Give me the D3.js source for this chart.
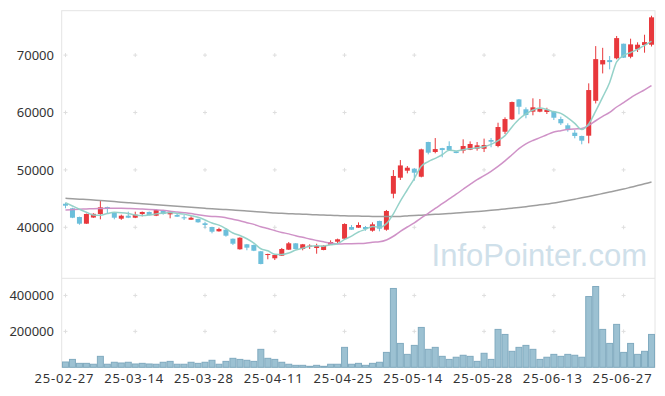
<!DOCTYPE html>
<html>
<head>
<meta charset="utf-8">
<script src="https://cdn.jsdelivr.net/npm/d3@7"></script>
<style>
  body { margin: 0; background: #fff; }
  svg { display: block; font-family: "Noto Sans", "Liberation Sans", sans-serif; }
  .lbl { font-size: 13px; fill: #333; }
</style>
</head>
<body>
<script>
const w = 665;
const h = 396;

// trading days (yy-mm-dd shown as 25-mm-dd)
const dates = ["02-27","02-28","03-04","03-05","03-06","03-07","03-10","03-11","03-12","03-13",
  "03-14","03-17","03-18","03-19","03-20","03-21","03-24","03-25","03-26","03-27",
  "03-28","03-31","04-01","04-02","04-03","04-04","04-07","04-08","04-09","04-10",
  "04-11","04-14","04-15","04-16","04-17","04-18","04-21","04-22","04-23","04-24",
  "04-25","04-28","04-29","04-30","05-02","05-07","05-08","05-09","05-12","05-13",
  "05-14","05-15","05-16","05-19","05-20","05-21","05-22","05-23","05-26","05-27",
  "05-28","05-29","05-30","06-02","06-04","06-05","06-09","06-10","06-11","06-12",
  "06-13","06-16","06-17","06-18","06-19","06-20","06-23","06-24","06-25","06-26",
  "06-27","06-30","07-01","07-02","07-03"];

const open = [44100,43310,41790,40630,41700,42320,43530,42490,41500,42020,
  41670,42320,42670,42020,42840,42260,42140,41740,41320,41450,
  40700,40050,39300,39580,38010,36170,37040,36920,35820,35170,
  34600,35050,36100,37210,36220,36620,36390,36050,36970,37490,
  38010,40050,39930,40050,39410,41100,39580,45850,48640,49860,
  50210,48810,54860,53120,53800,54160,53220,53350,53520,53690,
  53690,55210,54160,56650,58810,62280,60560,60140,60140,60090,
  60190,58860,57770,56480,55910,55960,62040,68380,69130,69440,
  71980,69710,71000,71760,71810];
const high = [44290,43400,41850,42400,42450,44580,43600,42550,42200,42720,
  42720,42750,42750,43100,42900,42800,42460,42140,41900,41500,
  40980,40100,39930,39810,38050,38250,37100,37000,35880,35400,
  35250,36400,37440,37250,37100,37040,37140,36850,37730,38030,
  40690,40400,40860,40230,40860,41150,43020,49980,51720,50680,
  50300,53700,54900,55550,53850,54980,53300,55330,54970,54860,
  55450,55560,58220,59160,61900,62350,60900,62470,62350,60830,
  60250,59270,58120,56950,55960,65080,71570,71270,69840,73330,
  72000,72860,72230,73550,76860];
const low = [43310,41600,40450,40600,41650,41390,42440,41390,41300,41600,
  41600,41900,42050,41950,42200,41570,41800,41270,41300,40800,
  39830,38950,39250,38370,36910,36100,36000,35850,33550,34430,
  34300,35000,36050,36150,35990,36220,35400,36000,36950,37170,
  37950,39550,39900,39410,39240,39300,39400,45050,48240,49400,
  48120,48700,52710,52890,52190,53290,52900,52890,53450,53350,
  53110,53940,53940,56250,58700,59680,58990,59510,60050,59740,
  58690,57820,56660,55500,54460,54630,61580,66810,67520,69270,
  69500,69440,70540,70420,71500];
const close = [43760,41670,40630,42320,42350,43480,43240,41670,42020,41670,
  42200,42670,42140,43010,42320,42720,41850,41570,41670,40870,
  40400,39230,39700,38540,37140,38190,36450,35920,33610,35350,
  35170,36220,37210,36220,37040,36800,36740,36800,37440,37910,
  40570,39580,40400,39700,40520,39760,42840,48940,50780,50380,
  49510,53580,53000,53630,53460,53460,52940,54160,54510,54280,
  54330,54910,57470,58860,61820,61000,59560,60900,60610,60490,
  59090,58120,56950,55910,55090,63910,69300,69130,68780,72960,
  69550,71870,71810,72260,76580];
const volume = [29600,44000,22000,22000,17000,61000,17000,28000,24000,28000,
  18500,22000,18500,17000,28000,33000,17000,17000,28000,22000,
  28000,39000,17000,33000,50000,44000,39000,33000,100000,50000,
  44000,28000,17000,11000,11000,5500,11000,5500,17000,17000,
  111000,17000,22000,11000,22000,28000,83000,439000,133000,72000,
  122000,222000,100000,111000,61000,44000,56000,67000,61000,33000,
  78000,44000,211000,183000,89000,111000,122000,100000,44000,56000,
  72000,61000,72000,67000,56000,394000,450000,211000,133000,239000,
  83000,133000,72000,89000,183000];

// averages whose windows start before the first shown day
const ma5Head = [44290,43710,43140,42610];
const ma20Head = [43010,43080,43140,43190,43240,43280,43300,43310,43310,43290,
  43250,43190,43120,43050,42970,42800,42680,42550,42400];
const ma120 = [45050,44980,44900,44830,44750,44670,44570,44480,44380,44280,
  44180,44100,44010,43930,43840,43760,43670,43580,43490,43400,
  43310,43230,43160,43080,43000,42930,42840,42750,42660,42580,
  42490,42440,42380,42330,42280,42230,42180,42140,42090,42050,
  42000,41980,41950,41930,41900,41880,41870,41860,41900,41980,
  42060,42120,42190,42260,42330,42400,42480,42570,42660,42750,
  42840,42950,43070,43200,43320,43450,43600,43750,43910,44070,
  44230,44450,44670,44900,45130,45370,45620,45880,46140,46400,
  46670,46970,47270,47580,47890];

const priceTicks = [40000, 50000, 60000, 70000];
const volTicks = [200000, 400000];
const labelEvery = 10;

function movingAvg(n, head) {
  return close.map(function (c, i) {
    if (i < n - 1) return head[i];
    return d3.mean(close.slice(i - n + 1, i + 1));
  });
}
const ma5 = movingAvg(5, ma5Head);
const ma20 = movingAvg(20, ma20Head);

const plotLeft = 62, plotRight = 655, plotTop = 10.7, panelSplit = 278.3, plotBottom = 367.3;

const svg = d3.select("body").append("svg").attr("width", w).attr("height", h);

const idx = d3.range(close.length);
const x = d3.scaleBand().domain(idx).range([plotLeft, plotRight]);
const cx = i => x(i) + x.bandwidth() / 2;
const y = d3.scaleLinear().domain([31115, 77735]).range([panelSplit, plotTop]);
const yv = d3.scaleLinear().domain([0, 495600]).range([plotBottom, panelSplit]);

// frame
const frame = svg.append("g").attr("stroke", "#e4e4e4").attr("fill", "none");
frame.append("rect").attr("x", plotLeft - 0.3).attr("y", plotTop)
  .attr("width", plotRight - plotLeft + 0.3).attr("height", plotBottom - plotTop);
frame.append("line").attr("x1", plotLeft).attr("x2", plotRight).attr("y1", panelSplit).attr("y2", panelSplit);

// grid crosses
const tickIdx = idx.filter(i => i % labelEvery === 0);
const crossPts = [];
tickIdx.forEach(function (i) {
  priceTicks.forEach(v => crossPts.push([cx(i), y(v)]));
  volTicks.forEach(v => crossPts.push([cx(i), yv(v)]));
});
svg.append("g").attr("stroke", "#dedede").attr("stroke-width", 1)
  .selectAll("path").data(crossPts).enter().append("path")
  .attr("d", d => "M" + (d[0] - 2) + "," + d[1] + "h4M" + d[0] + "," + (d[1] - 2) + "v4");

// watermark
svg.append("text").attr("x", 647).attr("y", 266).attr("text-anchor", "end")
  .style("font-family", "'Liberation Sans', Arial, sans-serif").style("font-size", "31px")
  .attr("fill", "#cfe0ea").text("InfoPointer.com");

// volume bars
svg.append("g").selectAll("rect").data(idx).enter().append("rect")
  .attr("x", i => x(i) + 0.5)
  .attr("y", i => yv(volume[i]))
  .attr("width", x.bandwidth() - 1)
  .attr("height", i => plotBottom - yv(volume[i]))
  .attr("fill", "#9cc1d2")
  .attr("stroke", "#80aabf")
  .attr("stroke-width", 1);

// candles
const up = "#e8383c", down = "#6cbfdb";
const bodyW = 5;
const candles = svg.append("g").selectAll("g").data(idx).enter().append("g")
  .attr("fill", i => close[i] >= open[i] ? up : down);
candles.append("rect")
  .attr("x", i => cx(i) - 0.5)
  .attr("y", i => y(high[i]))
  .attr("width", 1)
  .attr("height", i => y(low[i]) - y(high[i]));
candles.append("rect")
  .attr("x", i => cx(i) - bodyW / 2)
  .attr("y", i => y(Math.max(open[i], close[i])))
  .attr("width", bodyW)
  .attr("height", i => Math.max(1, Math.abs(y(open[i]) - y(close[i]))));

// moving averages
const line = d3.line().x((d, i) => cx(i)).y(d => y(d)).curve(d3.curveMonotoneX);
[[ma120, "#999999"], [ma20, "#cc8cc4"], [ma5, "#8fd0c6"]].forEach(function (s) {
  svg.append("path").datum(s[0]).attr("d", line)
    .attr("fill", "none").attr("stroke", s[1]).attr("stroke-width", 1.5)
    .attr("stroke-opacity", 0.95);
});

// axis labels
svg.append("g").selectAll("text").data(priceTicks).enter().append("text")
  .attr("class", "lbl").attr("x", 54).attr("y", d => y(d)).attr("dy", "0.36em")
  .attr("text-anchor", "end").text(d => d);
svg.append("g").selectAll("text").data(volTicks).enter().append("text")
  .attr("class", "lbl").attr("x", 54).attr("y", d => yv(d)).attr("dy", "0.36em")
  .attr("text-anchor", "end").text(d => d);
svg.append("g").selectAll("text").data(tickIdx).enter().append("text")
  .attr("class", "lbl").attr("x", i => cx(i) - 1.5).attr("y", 383)
  .attr("text-anchor", "middle")
  .attr("textLength", 59).attr("lengthAdjust", "spacing")
  .text(i => "25-" + dates[i]);
</script>
</body>
</html>
